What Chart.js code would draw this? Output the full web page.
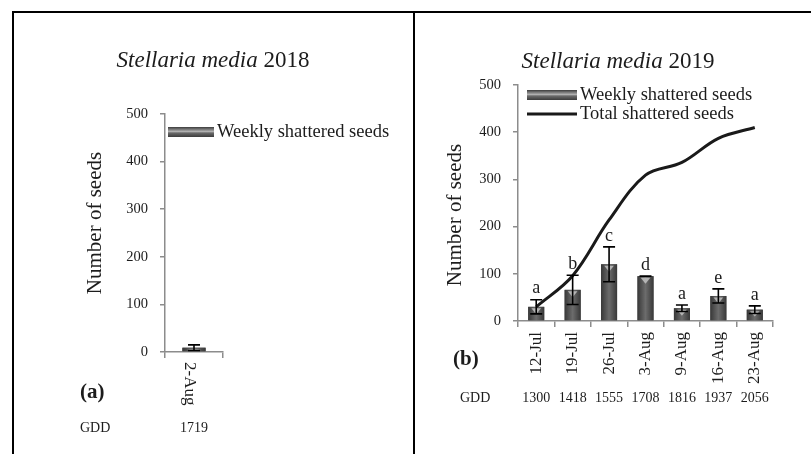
<!DOCTYPE html>
<html>
<head>
<meta charset="utf-8">
<script src="https://cdn.jsdelivr.net/npm/chart.js@4"></script>
<style>
  html, body { margin: 0; padding: 0; background: #fff; }
  #wrap { position: relative; width: 811px; height: 454px; overflow: hidden; }
  .frame { position: absolute; border: 0 solid #000; }
  canvas { position: absolute; top: 0; }
</style>
</head>
<body>
<div id="wrap">
  <div class="frame" style="left:12px;top:11px;width:820px;height:470px;border-width:2px 0 0 2px"></div>
  <div class="frame" style="left:413px;top:11px;width:0;height:470px;border-width:0 0 0 2px"></div>
  <canvas id="c2018" style="left:0" width="413" height="454"></canvas>
  <canvas id="c2019" style="left:413px" width="398" height="454"></canvas>
</div>
<script>
// ---- data ----
const dates2018 = ['2-Aug'];
const gdd2018 = ['1719'];
const weekly2018 = [9];
const err2018 = [6];

const dates2019 = ['12-Jul', '19-Jul', '26-Jul', '3-Aug', '9-Aug', '16-Aug', '23-Aug'];
const gdd2019 = ['1300', '1418', '1555', '1708', '1816', '1937', '2056'];
const weekly2019 = [30, 66, 120, 95, 27, 53, 24];
const err2019 = [15, 31, 37, 0, 7, 15, 8];
const letters2019 = ['a', 'b', 'c', 'd', 'a', 'e', 'a'];
const total2019 = [30, 96, 214, 309, 336, 387, 410];

const yMin = 0;
const yMax = 500;
const yStep = 100;

const FONT = "'Liberation Serif', 'Times New Roman', serif";
const INK = '#1c1c1c';
const AXIS = '#8c8c8c';

// bar fill with the Excel-ish bevel (dark edges, light centre, small triangle on top)
function paintBars(ctx, meta) {
  meta.data.forEach(el => {
    const { x, y, base, width } = el.getProps(['x', 'y', 'base', 'width'], true);
    const l = x - width / 2;
    const g = ctx.createLinearGradient(l, 0, l + width, 0);
    g.addColorStop(0, '#383838');
    g.addColorStop(0.5, '#6c6c6c');
    g.addColorStop(1, '#383838');
    ctx.fillStyle = g;
    ctx.fillRect(l, y, width, base - y);
    const th = Math.min(6, (base - y) / 2);
    ctx.fillStyle = '#b4b4b4';
    ctx.beginPath();
    ctx.moveTo(x - width * 0.3, y + 1.5);
    ctx.lineTo(x + width * 0.3, y + 1.5);
    ctx.lineTo(x, y + 1.5 + th);
    ctx.closePath();
    ctx.fill();
  });
}

function text(ctx, str, x, y, font, align, base) {
  ctx.font = font;
  ctx.fillStyle = INK;
  ctx.textAlign = align || 'left';
  ctx.textBaseline = base || 'middle';
  ctx.fillText(str, x, y);
}

const decor = {
  id: 'decor',
  afterDatasetDraw(chart, args) {
    if (args.meta.type === 'bar') paintBars(chart.ctx, args.meta);
  },
  afterDraw(chart, args, o) {
    const ctx = chart.ctx;
    const xs = chart.scales.x, ys = chart.scales.y;
    const bars = chart.getDatasetMeta(o.barIndex);
    ctx.save();

    // error bars + significance letters
    o.values.forEach((v, i) => {
      const cx = bars.data[i].x;
      const hi = ys.getPixelForValue(v + o.err[i]);
      const lo = ys.getPixelForValue(Math.max(0, v - o.err[i]));
      ctx.strokeStyle = '#000';
      ctx.lineWidth = 1.6;
      ctx.beginPath();
      ctx.moveTo(cx, hi); ctx.lineTo(cx, lo);
      ctx.moveTo(cx - o.cap, hi); ctx.lineTo(cx + o.cap, hi);
      ctx.moveTo(cx - o.cap, lo); ctx.lineTo(cx + o.cap, lo);
      ctx.stroke();
      if (o.letters) text(ctx, o.letters[i], cx, hi - 2, '18px ' + FONT, 'center', 'bottom');
    });

    // title: italic species name + year
    ctx.font = 'italic 23px ' + FONT;
    const w1 = ctx.measureText(o.species + ' ').width;
    ctx.font = '23px ' + FONT;
    const w2 = ctx.measureText(o.year).width;
    const tx = o.titleX - (w1 + w2) / 2;
    text(ctx, o.species + ' ', tx, o.titleY, 'italic 23px ' + FONT);
    text(ctx, o.year, tx + w1, o.titleY, '23px ' + FONT);

    // y axis title
    ctx.save();
    ctx.translate(o.yTitleX, o.yTitleY);
    ctx.rotate(-Math.PI / 2);
    text(ctx, 'Number of seeds', 0, 0, '21px ' + FONT, 'center');
    ctx.restore();

    // legend
    chart.data.datasets.forEach((ds, k) => {
      const ly = o.legendY + k * o.legendGap;
      if (ds.type === 'line') {
        ctx.strokeStyle = '#1a1a1a';
        ctx.lineWidth = 3;
        ctx.beginPath();
        ctx.moveTo(o.legendX, ly); ctx.lineTo(o.legendX + o.legendW, ly);
        ctx.stroke();
      } else {
        const g = ctx.createLinearGradient(0, ly - 5, 0, ly + 5);
        g.addColorStop(0, '#3c3c3c');
        g.addColorStop(0.45, '#b0b0b0');
        g.addColorStop(0.6, '#6a6a6a');
        g.addColorStop(1, '#3c3c3c');
        ctx.fillStyle = g;
        ctx.fillRect(o.legendX, ly - 5, o.legendW, 10);
      }
      text(ctx, ds.label, o.legendX + o.legendW + 3, ly, '18.5px ' + FONT);
    });

    // rotated (top-to-bottom) category labels when the library ones are off
    if (o.downLabels) {
      chart.data.labels.forEach((lab, i) => {
        ctx.save();
        ctx.translate(xs.getPixelForValue(i) - 5, xs.top + 10);
        ctx.rotate(Math.PI / 2);
        text(ctx, lab, 0, 0, '17px ' + FONT, 'left');
        ctx.restore();
      });
    }

    // panel letter and GDD row
    text(ctx, o.panel, o.panelX, o.panelY, 'bold 21px ' + FONT);
    text(ctx, 'GDD', o.gddX, o.gddY, '14px ' + FONT);
    o.gdd.forEach((g, i) => {
      text(ctx, g, xs.getPixelForValue(i), o.gddY, '14px ' + FONT, 'center');
    });
    ctx.restore();
  }
};

function yScale(width) {
  return {
    min: yMin,
    max: yMax,
    ticks: { stepSize: yStep, color: INK, padding: 12, font: { family: FONT, size: 14.5 } },
    grid: { drawOnChartArea: false, color: AXIS, tickLength: 5, lineWidth: 1.5 },
    border: { color: AXIS, width: 1.5 },
    afterFit: s => { s.width = width; }
  };
}

new Chart(document.getElementById('c2018'), {
  type: 'bar',
  data: {
    labels: dates2018,
    datasets: [{
      label: 'Weekly shattered seeds',
      data: weekly2018,
      backgroundColor: '#4a4a4a',
      barPercentage: 0.4,
      categoryPercentage: 1
    }]
  },
  options: {
    responsive: false,
    animation: false,
    layout: { padding: { left: 65, right: 190, top: 114, bottom: 22 } },
    plugins: {
      legend: { display: false },
      tooltip: { enabled: false },
      decor: {
        barIndex: 0, values: weekly2018, err: err2018, cap: 6,
        species: 'Stellaria media', year: '2018', titleX: 213, titleY: 61,
        yTitleX: 95, yTitleY: 223,
        legendX: 168, legendY: 132, legendGap: 18, legendW: 46,
        downLabels: true,
        panel: '(a)', panelX: 80, panelY: 393,
        gdd: gdd2018, gddX: 80, gddY: 428
      }
    },
    scales: {
      x: {
        ticks: { display: false },
        grid: { drawOnChartArea: false, color: AXIS, tickLength: 6, lineWidth: 1.5 },
        border: { color: AXIS, width: 1.5 },
        afterFit: s => { s.height = 80; }
      },
      y: yScale(100)
    }
  },
  plugins: [decor]
});

new Chart(document.getElementById('c2019'), {
  data: {
    labels: dates2019,
    datasets: [{
      type: 'bar',
      label: 'Weekly shattered seeds',
      data: weekly2019,
      backgroundColor: '#4a4a4a',
      barPercentage: 0.44,
      categoryPercentage: 1,
      order: 2
    }, {
      type: 'line',
      label: 'Total shattered seeds',
      data: total2019,
      borderColor: '#1a1a1a',
      borderWidth: 3,
      pointRadius: 0,
      tension: 0.35,
      fill: false,
      order: 1
    }]
  },
  options: {
    responsive: false,
    animation: false,
    layout: { padding: { left: 15, right: 38, top: 85, bottom: 43 } },
    plugins: {
      legend: { display: false },
      tooltip: { enabled: false },
      decor: {
        barIndex: 0, values: weekly2019, err: err2019, letters: letters2019, cap: 6,
        species: 'Stellaria media', year: '2019', titleX: 205, titleY: 62,
        yTitleX: 42, yTitleY: 215,
        legendX: 114, legendY: 95, legendGap: 19, legendW: 50,
        downLabels: false,
        panel: '(b)', panelX: 40, panelY: 360,
        gdd: gdd2019, gddX: 47, gddY: 398
      }
    },
    scales: {
      x: {
        offset: true,
        ticks: { minRotation: 90, maxRotation: 90, color: INK, padding: 5, font: { family: FONT, size: 17 } },
        grid: { drawOnChartArea: false, offset: true, color: AXIS, tickLength: 6, lineWidth: 1.5 },
        border: { color: AXIS, width: 1.5 },
        afterFit: s => { s.height = 90; }
      },
      y: yScale(90)
    }
  },
  plugins: [decor]
});
</script>
</body>
</html>
